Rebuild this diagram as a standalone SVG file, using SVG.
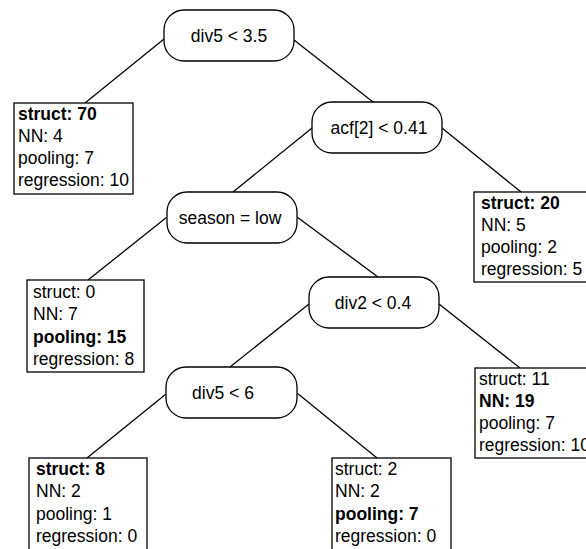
<svg xmlns="http://www.w3.org/2000/svg" width="586" height="549" viewBox="0 0 586 549">
<style>
.split{fill:#fff;stroke:#000;stroke-width:1.3}
.leaf{fill:#fff;stroke:#000;stroke-width:1.3}
text{font-family:"Liberation Sans",Arial,sans-serif;font-size:17.5px;fill:#000}
.c{text-anchor:middle}
.b{font-weight:bold}
.edge{stroke:#000;stroke-width:1.3;fill:none}
</style>
<rect width="586" height="549" fill="#fff"/>
<g id="connectors">
<line class="edge" x1="164" y1="39" x2="85" y2="103"/>
<line class="edge" x1="294" y1="40" x2="373" y2="102"/>
<line class="edge" x1="312" y1="128" x2="233" y2="192"/>
<line class="edge" x1="442" y1="128" x2="521" y2="192"/>
<line class="edge" x1="167" y1="217" x2="88" y2="280"/>
<line class="edge" x1="297" y1="217" x2="378" y2="277"/>
<line class="edge" x1="309" y1="304" x2="230" y2="367"/>
<line class="edge" x1="439" y1="304" x2="520" y2="368"/>
<line class="edge" x1="166" y1="394" x2="87" y2="458"/>
<line class="edge" x1="297" y1="393" x2="377" y2="458"/>
</g>
<g id="n1">
<rect class="split" x="164" y="10" width="130" height="51" rx="20"/>
<text class="c" x="229" y="42">div5 &lt; 3.5</text>
</g>
<g id="n2">
<rect class="split" x="312" y="102" width="130" height="51" rx="20"/>
<text class="c" x="379" y="134">acf[2] &lt; 0.41</text>
</g>
<g id="n3">
<rect class="split" x="167" y="192" width="130" height="51" rx="20"/>
<text class="c" x="230" y="224">season = low</text>
</g>
<g id="n4">
<rect class="split" x="309" y="277" width="130" height="51" rx="20"/>
<text class="c" x="373" y="309">div2 &lt; 0.4</text>
</g>
<g id="n5">
<rect class="split" x="166" y="367" width="131" height="51" rx="20"/>
<text class="c" x="223" y="399">div5 &lt; 6</text>
</g>
<g id="leaf1">
<rect class="leaf" x="14" y="103" width="119" height="91"/>
<text x="18" y="120" class="b">struct: 70</text>
<text x="18" y="142">NN: 4</text>
<text x="18" y="164">pooling: 7</text>
<text x="18" y="186">regression: 10</text>
</g>
<g id="leaf2">
<rect class="leaf" x="474" y="192" width="120" height="90"/>
<text x="481" y="209" class="b">struct: 20</text>
<text x="481" y="231">NN: 5</text>
<text x="481" y="253">pooling: 2</text>
<text x="481" y="275">regression: 5</text>
</g>
<g id="leaf3">
<rect class="leaf" x="27" y="280" width="117" height="92"/>
<text x="33" y="298">struct: 0</text>
<text x="33" y="320">NN: 7</text>
<text x="33" y="343" class="b">pooling: 15</text>
<text x="33" y="365">regression: 8</text>
</g>
<g id="leaf4">
<rect class="leaf" x="475" y="368" width="120" height="90"/>
<text x="479" y="385">struct: 11</text>
<text x="479" y="407" class="b">NN: 19</text>
<text x="479" y="429">pooling: 7</text>
<text x="479" y="451">regression: 10</text>
</g>
<g id="leaf5">
<rect class="leaf" x="29" y="458" width="118" height="100"/>
<text x="36" y="475" class="b">struct: 8</text>
<text x="36" y="497">NN: 2</text>
<text x="36" y="520">pooling: 1</text>
<text x="36" y="542">regression: 0</text>
</g>
<g id="leaf6">
<rect class="leaf" x="332" y="458" width="119" height="100"/>
<text x="335" y="475">struct: 2</text>
<text x="335" y="497">NN: 2</text>
<text x="335" y="520" class="b">pooling: 7</text>
<text x="335" y="542">regression: 0</text>
</g>
</svg>
